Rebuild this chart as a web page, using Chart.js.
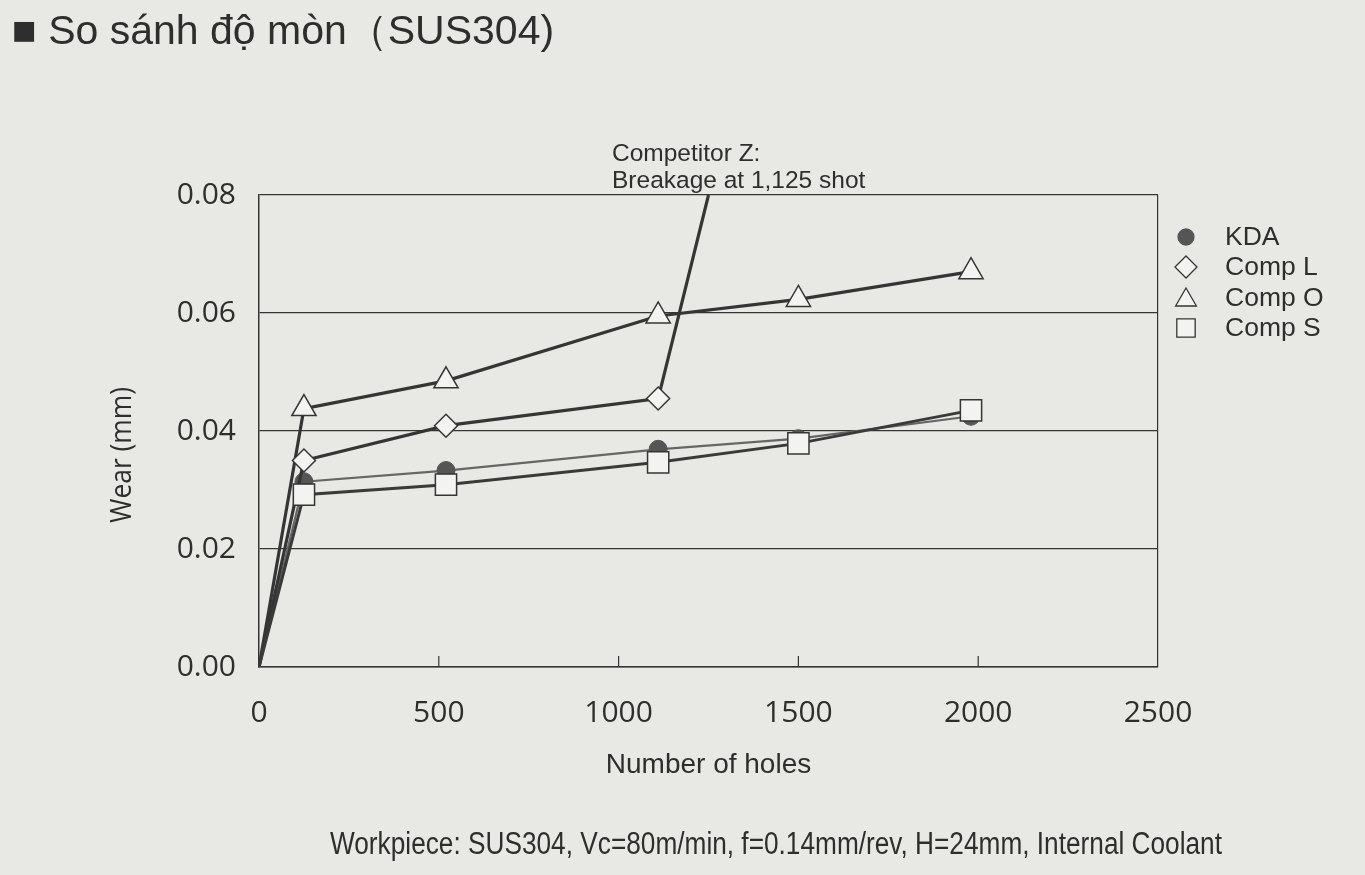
<!DOCTYPE html>
<html>
<head>
<meta charset="utf-8">
<script src="https://cdn.jsdelivr.net/npm/chart.js@4"></script>
<style>
  html, body { margin: 0; padding: 0; background: #e8e8e5; }
  #wrap { position: absolute; left: 0; top: 0; width: 1365px; height: 875px; }
</style>
</head>
<body>
<div id="wrap"><canvas id="chart" width="1365" height="875"></canvas></div>
<script>
// data
const seriesNames = ["KDA", "Comp L", "Comp O", "Comp S"];
const holes = [0, 125, 520, 1110, 1500, 1980];
const kdaWear = [0, 0.0314, 0.0333, 0.0369, 0.0387, 0.0425];
const compSWear = [0, 0.0292, 0.0309, 0.0347, 0.0379, 0.0435];
const compOWear = [0, 0.0438, 0.0485, 0.0595, 0.0623, 0.067];
const compLHoles = [0, 125, 520, 1110, 1250];
const compLWear = [0, 0.035, 0.0409, 0.0455, 0.08];
const xTicks = [0, 500, 1000, 1500, 2000, 2500];
const yTickLabels = ["0.00", "0.02", "0.04", "0.06", "0.08"];

const titleText = "■ So sánh độ mòn（SUS304)";
const yTitle = "Wear (mm)";
const noteLines = ["Competitor Z:", "Breakage at 1,125 shot"];
const footerText = "Workpiece: SUS304, Vc=80m/min, f=0.14mm/rev, H=24mm, Internal Coolant";

const ink = "#2e2e2e";
const lineDark = "#353535";
const paper = "#f3f3f1";

const pts = (xs, ys) => xs.map((x, i) => ({ x: x, y: ys[i] }));
// no marker on the origin, and none on the breakage end of Comp L
const radii = (n, r, skipLast) => Array.from({ length: n }, (_, i) => (i === 0 || (skipLast && i === n - 1)) ? 0 : r);

const datasets = [
  { label: seriesNames[0], data: pts(holes, kdaWear), order: 4,
    borderColor: "#666", borderWidth: 2.2, pointStyle: "circle",
    pointRadius: radii(holes.length, 9), pointBackgroundColor: "#555", pointBorderColor: "#555", pointBorderWidth: 1 },
  { label: seriesNames[1], data: pts(compLHoles, compLWear), order: 2,
    borderColor: lineDark, borderWidth: 3.2, pointStyle: "rectRot",
    pointRadius: radii(compLHoles.length, 11.5, true), pointBackgroundColor: paper, pointBorderColor: lineDark, pointBorderWidth: 1.5 },
  { label: seriesNames[2], data: pts(holes, compOWear), order: 3,
    borderColor: lineDark, borderWidth: 3.2, pointStyle: "triangle",
    pointRadius: radii(holes.length, 14), pointBackgroundColor: paper, pointBorderColor: lineDark, pointBorderWidth: 1.5 },
  { label: seriesNames[3], data: pts(holes, compSWear), order: 1,
    borderColor: "#3a3a3a", borderWidth: 3, pointStyle: "rect",
    pointRadius: radii(holes.length, 15), pointBackgroundColor: paper, pointBorderColor: lineDark, pointBorderWidth: 1.5 }
];

// small inner tick marks on the x axis
const innerTicks = {
  id: "innerTicks",
  afterDatasetsDraw(chart) {
    const { ctx, chartArea, scales } = chart;
    ctx.save();
    ctx.strokeStyle = lineDark;
    ctx.lineWidth = 1.2;
    xTicks.slice(1, -1).forEach(v => {
      const x = scales.x.getPixelForValue(v);
      ctx.beginPath();
      ctx.moveTo(x, chartArea.bottom);
      ctx.lineTo(x, chartArea.bottom - 11);
      ctx.stroke();
    });
    ctx.restore();
  }
};

// legend at the right, plus the page texts
const extras = {
  id: "extras",
  afterDraw(chart) {
    const { ctx } = chart;
    ctx.save();
    ctx.fillStyle = ink;
    ctx.textBaseline = "alphabetic";
    ctx.textAlign = "left";

    ctx.font = "41px 'Liberation Sans', Arial, sans-serif";
    ctx.fillText(titleText, 12, 44);

    ctx.font = "24.5px 'Liberation Sans', Arial, sans-serif";
    ctx.fillText(noteLines[0], 612, 161);
    ctx.fillText(noteLines[1], 612, 188);

    ctx.font = "31px 'Liberation Sans Narrow', 'Liberation Sans', sans-serif";
    ctx.fillText(footerText, 330, 854, 892);

    ctx.save();
    ctx.translate(131, 455);
    ctx.rotate(-Math.PI / 2);
    ctx.textAlign = "center";
    ctx.font = "29px 'Open Sans', sans-serif";
    ctx.fillText(yTitle, 0, 0, 136);
    ctx.restore();

    const rowY = [237, 267, 298, 328];
    const legendR = [8, 11, 12, 13];
    chart.data.datasets.forEach((ds, i) => {
      const y = rowY[i] + (ds.pointStyle === "triangle" ? 2 : 0);
      ctx.fillStyle = ds.pointStyle === "circle" ? "#555" : paper;
      ctx.strokeStyle = ds.pointStyle === "circle" ? "#555" : lineDark;
      ctx.lineWidth = 1.3;
      Chart.helpers.drawPoint(ctx, {
        pointStyle: ds.pointStyle, radius: legendR[i], rotation: 0, borderWidth: 1.3
      }, 1186, y);
      ctx.fillStyle = ink;
      ctx.font = "26.5px 'Liberation Sans', Arial, sans-serif";
      ctx.textBaseline = "middle";
      ctx.fillText(ds.label, 1225, rowY[i] + 1);
    });
    ctx.restore();
  }
};

new Chart(document.getElementById("chart").getContext("2d"), {
  type: "line",
  data: { datasets: datasets },
  options: {
    responsive: false,
    animation: false,
    devicePixelRatio: 1,
    layout: { padding: { left: 90, right: 207, top: 195, bottom: 0 } },
    plugins: { legend: { display: false }, tooltip: { enabled: false } },
    elements: { line: { tension: 0 } },
    scales: {
      x: {
        type: "linear",
        min: 0, max: 2500,
        afterBuildTicks: s => { s.ticks = xTicks.map(v => ({ value: v })); },
        afterFit: s => { s.height = 875 - 667; },
        ticks: {
          color: ink, padding: 28,
          font: { family: "'Open Sans', sans-serif", size: 30 },
          callback: v => String(v)
        },
        grid: {
          drawTicks: false,
          color: c => (c.tick && c.tick.value === 2500) ? lineDark : "rgba(0,0,0,0)",
          lineWidth: 1.2
        },
        border: { display: true, color: lineDark, width: 1.5 },
        title: {
          display: true, text: "Number of holes", color: ink,
          font: { family: "'Liberation Sans', Arial, sans-serif", size: 28 },
          padding: { top: 0, bottom: 93 }
        }
      },
      y: {
        min: 0, max: 0.08,
        afterBuildTicks: s => { s.ticks = yTickLabels.map(t => ({ value: parseFloat(t) })); },
        afterFit: s => { s.width = 259 - 90; },
        ticks: {
          color: ink, padding: 23,
          font: { family: "'Open Sans', sans-serif", size: 30 },
          callback: (v, i) => yTickLabels[i]
        },
        grid: { drawTicks: false, color: lineDark, lineWidth: 1.2 },
        border: { display: true, color: lineDark, width: 1.5 },
        title: { display: false }
      }
    }
  },
  plugins: [innerTicks, extras]
});
</script>
</body>
</html>
